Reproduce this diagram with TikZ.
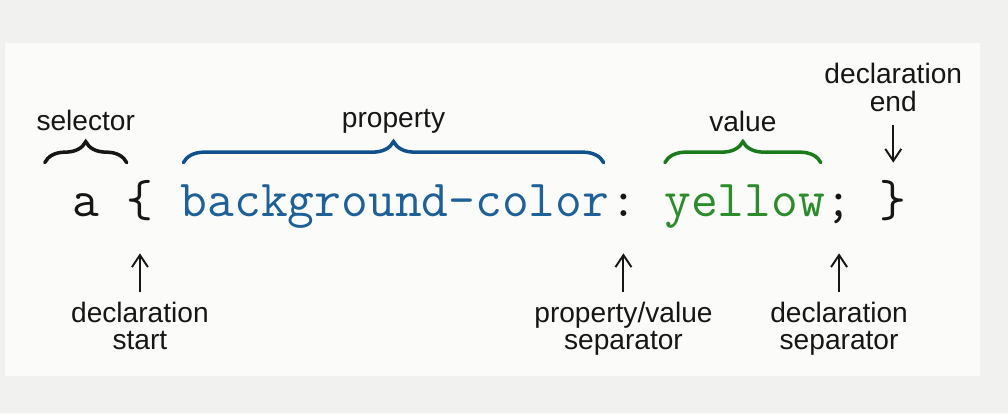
\documentclass[tikz,border=0pt]{standalone}
\usepackage{fontspec}
\setmainfont{Liberation Sans}
\usepackage{xcolor}
\usepackage{tikz}
\usetikzlibrary{arrows.meta, positioning, calc, decorations.pathreplacing}

\definecolor{pagebg}{RGB}{241,241,240}
\definecolor{panelbg}{RGB}{251,251,250}
\definecolor{inkblack}{RGB}{22,22,22}
\definecolor{propblue}{RGB}{30,96,152}
\definecolor{propbrace}{RGB}{16,80,140}
\definecolor{valgreen}{RGB}{44,140,44}
\definecolor{valbrace}{RGB}{28,122,28}

\begin{document}
\begin{tikzpicture}[
  code/.style={font=\fontsize{29.6pt}{34pt}\ttfamily, inner sep=0, text height=0.5cm, text depth=0.12cm, text=inkblack},
  lbl/.style={font=\fontsize{16pt}{15.5pt}\selectfont, align=center, inner sep=0, text=inkblack},
  brc/.style={decorate, decoration={brace, amplitude=0.42cm}, line width=2pt, line cap=round},
  arr/.style={-{Straight Barb[length=0.24cm, width=0.32cm]}, line width=1.1pt, inkblack},
  node distance=0.534cm
]
\useasboundingbox (0,0) rectangle (20.16,8.26);
\fill[pagebg] (0,0) rectangle (20.16,8.26);
\fill[panelbg] (0.1,0.74) rectangle (19.6,7.40);

\node[code, anchor=base west] (sel) at (1.44,3.92) {a};
\node[code, right=of sel.base east, anchor=base west] (open) {\{};
\node[code, right=of open.base east, anchor=base west, text=propblue] (prop) {background-color};
\node[code, right=0cm of prop.base east, anchor=base west] (colon) {:};
\node[code, right=of colon.base east, anchor=base west, text=valgreen] (val) {yellow};
\node[code, right=0cm of val.base east, anchor=base west] (semi) {;};
\node[code, right=of semi.base east, anchor=base west] (close) {\}};

\draw[brc, inkblack] ($(sel.north)+(-0.82,0.58)$) -- node[lbl, anchor=base, yshift=0.64cm] (sellbl) {selector} ($(sel.north)+(0.82,0.58)$);
\draw[brc, propbrace] ($(prop.north west)+(0.06,0.58)$) -- node[lbl, anchor=base, yshift=0.70cm] (proplbl) {property} ($(prop.north east)+(-0.12,0.58)$);
\draw[brc, valbrace] ($(val.north west)+(0.02,0.58)$) -- node[lbl, anchor=base, yshift=0.62cm] (vallbl) {value} ($(val.north east)+(-0.09,0.58)$);

\node[lbl, above=1.6cm of close] (endlbl) {declaration\\end};
\node[lbl, below=1.56cm of open] (startlbl) {declaration\\start};
\node[lbl, below=1.56cm of colon] (pvlbl) {property/value\\separator};
\node[lbl, below=1.56cm of semi] (seplbl) {declaration\\separator};

\draw[arr, shorten <=0.26cm, shorten >=0.58cm] (endlbl) -- (close);
\draw[arr, shorten <=0.18cm, shorten >=0.6cm] (startlbl) -- (open);
\draw[arr, shorten <=0.18cm, shorten >=0.6cm] (pvlbl) -- (colon);
\draw[arr, shorten <=0.18cm, shorten >=0.6cm] (seplbl) -- (semi);
\end{tikzpicture}
\end{document}
